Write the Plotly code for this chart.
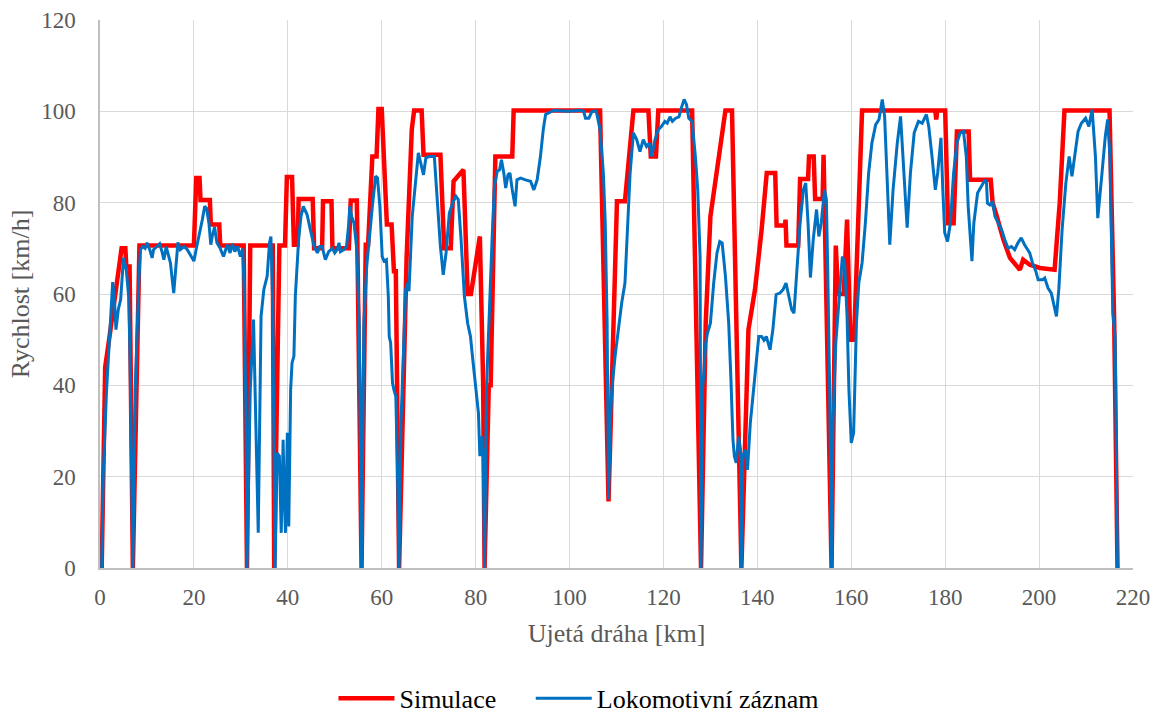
import plotly.graph_objects as go

# Simulated speed profile along the route
sim_km = [0.36, 1.1, 1.8, 3.5, 4.6, 5.4, 5.6, 6.3, 6.9, 7.0, 8.4, 20.0, 20.5, 21.2, 21.4, 23.4, 23.6, 25.4,
          25.6, 30.6, 31.3, 32.0, 36.8, 37.1, 38.2, 39.4, 39.8, 40.9, 41.3, 42.1, 42.3, 45.3, 45.6, 47.3,
          47.5, 49.3, 49.5, 53.0, 53.4, 54.7, 55.7, 56.6, 57.1, 58.0, 58.9, 59.3, 60.0, 61.1, 62.1, 62.6,
          63.0, 63.3, 63.7, 65.3, 66.4, 66.9, 68.5, 68.9, 72.5, 73.3, 74.7, 75.3, 77.4, 78.3, 79.0, 80.9,
          81.6, 81.9, 82.8, 83.2, 84.2, 87.8, 88.1, 106.5, 108.3, 110.1, 111.8, 113.6, 116.8, 117.3, 118.4,
          118.9, 126.1, 128.0, 129.0, 130.0, 131.8, 133.2, 134.6, 136.6, 138.1, 139.5, 140.9, 142.0, 143.8,
          144.1, 145.9, 146.0, 146.2, 148.7, 149.1, 150.8, 151.0, 152.0, 152.3, 153.9, 154.1, 155.8, 156.7,
          157.2, 158.4, 159.1, 159.8, 160.6, 162.3, 177.9, 178.1, 178.3, 180.0, 180.6, 181.8, 182.5, 185.0,
          185.3, 189.7, 190.1, 191.0, 192.4, 193.8, 195.9, 196.6, 198.0, 200.2, 203.3, 204.4, 205.4, 215.0,
          216.0, 216.7]
sim_v = [0, 44, 49, 62, 70, 70, 66, 66, 0, 0, 70.6, 70.6, 85.4, 85.4, 80.6, 80.6, 75.2, 75.2,
         70.6, 70.6, 0, 70.6, 70.6, 0, 70.6, 70.6, 85.6, 85.6, 70.8, 70.8, 80.8, 80.8, 70, 70,
         80.3, 80.3, 70, 70, 80.5, 80.5, 0, 70.8, 70.8, 90.1, 90.1, 100.5, 100.5, 75.2, 75.2, 65,
         65, 40.5, 0, 68, 96, 100.2, 100.2, 90.5, 90.5, 70, 70, 84.7, 87.2, 60, 60, 72.6,
         40.5, 0, 40, 40, 90.1, 90.1, 100.2, 100.2, 14.6, 80.3, 80.3, 100.2, 100.2, 90.1, 90.1,
         100.2, 100.2, 0, 53.6, 77, 90.1, 100.2, 100.2, 0, 52.2, 61, 74, 86.5, 86.5,
         75, 75, 76.3, 70.6, 70.6, 85.2, 85.2, 90.1, 90.1, 80.8, 80.8, 90.5, 0, 70.6,
         60, 60, 76.3, 50, 50, 100.2, 100.2, 98.2, 100.2, 100.2, 75.5, 75.5, 95.6, 95.6,
         85, 85, 80, 77, 71.9, 67.9, 65.3, 67.5, 66.4, 65.7, 65.3, 80, 100.2, 100.2,
         53.6, 0]

# Recorded locomotive speed
loco_km = [0.36, 0.7, 1.4, 2.1, 2.7, 3.0, 3.4, 3.9, 4.4, 5.0, 5.6, 6.1, 6.4, 7.0, 7.5, 8.2, 8.6, 9.1, 9.6,
           10.0, 10.6, 11.1, 11.4, 12.1, 12.7, 13.2, 13.6, 14.1, 14.6, 15.0, 15.7, 16.3, 16.6, 17.1, 17.9,
           18.6, 19.3, 20.0, 20.6, 21.1, 21.8, 22.3, 22.7, 23.2, 23.6, 23.9, 24.4, 24.9, 25.6, 26.3, 27.1,
           27.7, 28.2, 28.7, 29.3, 29.9, 30.4, 30.7, 31.1, 31.3, 32.0, 32.7, 33.1, 33.7, 34.3, 34.9, 35.6,
           36.1, 36.4, 36.8, 37.0, 37.3, 37.7, 38.2, 38.6, 39.0, 39.2, 39.5, 39.9, 40.2, 40.6, 40.9, 41.3,
           41.6, 42.3, 42.8, 43.3, 44.1, 44.8, 45.6, 46.3, 46.8, 47.3, 48.0, 48.7, 49.5, 50.0, 50.5, 50.9,
           51.2, 51.9, 52.5, 53.0, 53.2, 53.6, 54.1, 54.7, 55.2, 55.7, 56.2, 56.8, 57.3, 58.0, 58.7, 59.1,
           59.6, 60.1, 60.5, 61.0, 61.4, 61.6, 61.9, 62.3, 62.6, 63.0, 63.3, 63.7, 64.1, 64.6, 65.1, 65.5,
           65.8, 66.5, 67.3, 67.8, 68.3, 68.9, 69.4, 70.1, 71.2, 71.7, 72.5, 73.1, 73.7, 74.4, 75.1, 75.8,
           76.3, 76.9, 77.6, 78.3, 78.9, 79.4, 80.1, 80.6, 80.9, 81.3, 81.6, 81.9, 82.3, 82.8, 83.5, 84.0,
           84.6, 85.1, 85.5, 86.0, 86.4, 86.9, 87.3, 87.8, 88.4, 88.8, 89.6, 90.6, 91.7, 92.4, 93.1, 93.8,
           94.4, 94.9, 95.6, 96.6, 99.5, 102.3, 103.0, 103.4, 104.1, 104.8, 105.7, 106.5, 107.2, 107.6,
           108.0, 108.3, 108.7, 109.0, 109.7, 110.4, 111.1, 111.8, 112.2, 112.9, 113.6, 114.3, 115.0, 115.7,
           116.4, 117.0, 117.5, 118.2, 118.9, 119.6, 120.3, 120.8, 121.4, 121.9, 122.6, 123.3, 123.8, 124.4,
           124.9, 125.4, 126.1, 126.8, 127.3, 127.8, 128.0, 128.3, 128.6, 129.0, 129.4, 130.0, 130.7, 131.4,
           132.0, 132.5, 133.2, 133.9, 134.4, 134.8, 135.1, 135.5, 136.0, 136.4, 136.6, 136.9, 137.4, 137.9,
           138.5, 139.2, 139.9, 140.3, 140.9, 141.4, 141.9, 142.7, 143.3, 144.0, 144.8, 145.5, 146.1, 146.6,
           147.3, 147.8, 148.4, 149.1, 149.8, 150.3, 150.8, 151.3, 151.9, 152.6, 153.1, 153.6, 154.3, 154.7,
           155.0, 155.4, 155.8, 156.1, 156.7, 157.4, 158.1, 158.6, 159.1, 159.5, 160.0, 160.5, 161.1, 161.6,
           162.3, 163.0, 163.7, 164.4, 165.2, 165.9, 166.6, 167.1, 167.6, 168.2, 168.9, 169.8, 170.5, 171.0,
           171.9, 172.6, 173.4, 174.3, 175.1, 176.0, 176.5, 177.2, 177.9, 178.4, 179.1, 179.5, 179.9, 180.5,
           181.1, 181.8, 182.5, 183.2, 183.9, 184.5, 184.9, 185.7, 186.1, 186.9, 187.8, 188.5, 188.8, 189.0,
           189.5, 190.1, 190.6, 191.3, 192.0, 192.7, 193.4, 194.1, 194.8, 195.5, 196.2, 196.9, 198.0, 198.6,
           199.3, 199.8, 200.7, 201.2, 201.9, 202.6, 203.1, 203.7, 204.2, 204.9, 205.7, 206.4, 207.0, 207.6,
           208.3, 209.0, 209.9, 210.6, 211.3, 212.0, 212.5, 213.4, 214.1, 214.6, 215.1, 215.7, 216.2, 216.7]
loco_v = [0, 20.8, 39, 52, 62.6, 60.2, 52.2, 56.6, 58.8, 67.9, 65.3, 59.5, 46.4, 0, 39, 61, 69.7, 70.4, 70,
          71.2, 69.7, 67.9, 69.7, 70.4, 71, 69.3, 67.5, 70.4, 68.6, 66.8, 60.2, 69, 71.3, 69.7, 70.4,
          69.7, 68.4, 67.2, 70.4, 72.6, 76.3, 79.2, 78.8, 75.5, 70.8, 72.6, 74.7, 71.2, 70, 68.2, 70.8,
          69, 71, 69.3, 70.4, 68.2, 70, 61, 31.8, 0, 39, 54.4, 32.5, 7.7, 55.1, 61, 63.9,
          71.2, 72.6, 57.3, 31.8, 0, 25.2, 24.5, 7.7, 28.1, 17.2, 7.7, 29.6, 9.1, 39, 44.9, 46.4,
          59.5, 71.9, 77, 79.2, 77.4, 74.1, 70.4, 69, 70.4, 70.4, 67.5, 69.3, 70, 69, 69.7, 71.2,
          69.3, 69.7, 70.4, 75.5, 79.2, 77, 75.5, 69.7, 53.6, 0, 53.6, 66, 71.9, 79.2, 85.8, 85.4,
          79.2, 68.2, 67.2, 67.5, 59.5, 50.7, 49.3, 40.5, 39, 37.6, 24.5, 0, 31.8, 47.8, 61, 62.4,
          60.6, 77, 86.5, 90.9, 88.7, 86.1, 89.8, 90.1, 90.1, 82.8, 70.4, 64.2, 69, 77.7, 79.9, 81.4,
          80.7, 71.9, 59.5, 53.6, 50.7, 45.6, 39, 33.9, 24.5, 28.8, 24.5, 0, 39, 53.6, 71.9, 83.6,
          86.9, 87.2, 89.4, 86.5, 83.2, 86.1, 86.5, 82.8, 79.2, 85, 85.4, 85, 84.7, 82.8, 85, 90.1,
          96, 99.3, 99.6, 100.2, 100, 100.2, 100, 98.5, 98.5, 100, 100, 96, 86.5, 75.5,
          53.6, 15, 31.8, 39, 46.4, 52.9, 58, 62.4, 71.9, 86.5, 95.3, 93.8, 91.2, 93.8,
          92.3, 93, 90.1, 93.8, 96, 96.7, 97.8, 97.4, 98.8, 97.8, 98.5, 98.8, 100.7, 102.6,
          101.5, 98.5, 97.8, 90.1, 82.8, 68.2, 0, 39, 42.7, 49.3, 51.5, 53.6, 62.4, 69,
          71.5, 71.2, 63.9, 53.6, 40.5, 28.1, 24.5, 23, 28.8, 26, 0, 24.5, 25.9, 21.5,
          31.8, 39, 47.8, 50.7, 50.7, 49.9, 50.7, 47.8, 52.2, 59.9, 60.2, 61, 62.4, 60.2,
          56.6, 55.8, 65.3, 75.5, 82.8, 84.3, 75.5, 63.6, 71.9, 78.5, 72.6, 75.5, 82.8, 80.7,
          64.6, 39, 0, 31.8, 49.3, 58, 68.2, 66.8, 55.1, 39, 27.4, 29.6, 53.6, 62.4,
          66.8, 75.5, 86.5, 93.1, 97.1, 98.2, 102.6, 98.9, 84.3, 70.8, 82.8, 93.1, 98.9, 90.1,
          74.5, 86.5, 95.3, 97.8, 97.4, 99.3, 96.7, 90.1, 82.8, 86.5, 94.2, 82.8, 73.4, 71.5,
          75.5, 86.5, 93.1, 95.3, 95.6, 90.1, 79.2, 67.2, 75.5, 82.1, 83.6, 85, 84.3, 79.9,
          79.5, 80.3, 77, 75.5, 74.1, 71.9, 70, 70.4, 69.7, 71.2, 72.3, 70.8, 69, 66.8,
          65, 63.1, 63.1, 63.5, 61.3, 60.2, 58, 55.1, 61, 74.1, 84.3, 90.1, 85.8, 90.5,
          95.6, 97.4, 98.5, 96.7, 100.4, 90.1, 76.6, 86.5, 94.5, 98.2, 90.1, 55.8, 50.7, 0]

x_ticks = [0, 20, 40, 60, 80, 100, 120, 140, 160, 180, 200, 220]
y_ticks = [0, 20, 40, 60, 80, 100, 120]

FONT = "Liberation Serif"
GREY = "#595959"

fig = go.Figure()
fig.add_trace(go.Scatter(x=sim_km, y=sim_v, mode="lines", name="Simulace",
                         line=dict(color="#FF0000", width=4.5), legend="legend"))
fig.add_trace(go.Scatter(x=loco_km, y=loco_v, mode="lines", name="Lokomotivní záznam",
                         line=dict(color="#0070C0", width=3), legend="legend2"))

legend_style = dict(orientation="h", xanchor="left", y=-0.238, yanchor="middle",
                    font=dict(family=FONT, size=26, color="black"), itemwidth=56,
                    bgcolor="rgba(0,0,0,0)")

fig.update_layout(
    width=1165, height=715,
    margin=dict(l=100, r=32, t=20, b=147, autoexpand=False),
    paper_bgcolor="white", plot_bgcolor="white",
    font=dict(family=FONT, color=GREY, size=23),
    showlegend=True,
    legend=dict(x=0.226, **legend_style),
    legend2=dict(x=0.417, **legend_style),
)
fig.update_xaxes(
    range=[0, 220], tickmode="array", tickvals=x_ticks,
    showgrid=True, gridcolor="#D9D9D9", gridwidth=1.3,
    showline=True, linecolor="#BFBFBF", linewidth=1.5, zeroline=False,
    ticks="", ticklabelstandoff=8, tickfont=dict(family=FONT, size=23, color=GREY),
    title=dict(text="Ujetá dráha [km]", font=dict(family=FONT, size=26, color=GREY), standoff=14),
)
fig.update_yaxes(
    range=[0, 120], tickmode="array", tickvals=y_ticks,
    showgrid=True, gridcolor="#D9D9D9", gridwidth=1.3,
    showline=True, linecolor="#BFBFBF", linewidth=1.5, zeroline=False,
    ticks="", ticklabelstandoff=18, tickfont=dict(family=FONT, size=23, color=GREY),
    title=dict(text="Rychlost [km/h]", font=dict(family=FONT, size=26, color=GREY), standoff=4),
)

fig.write_html("out.html")
